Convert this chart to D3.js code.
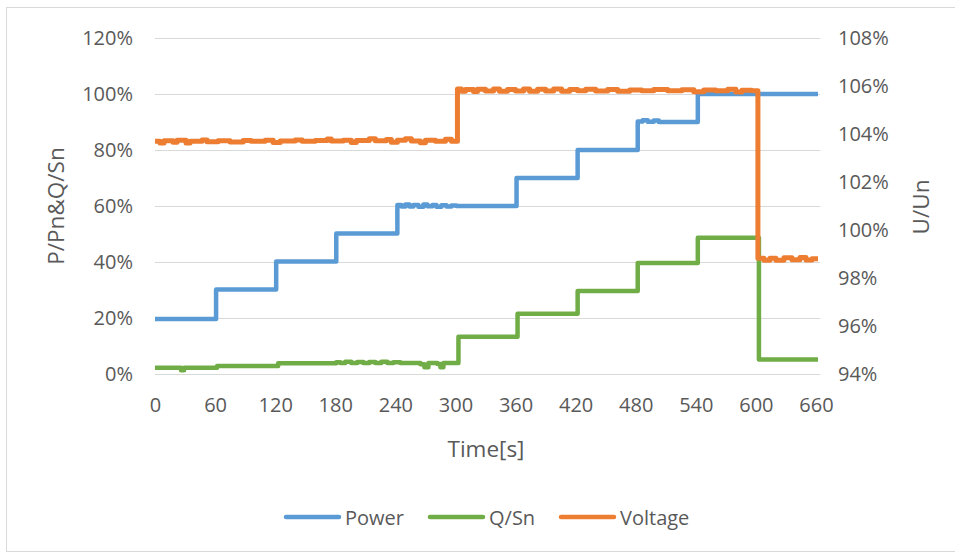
<!DOCTYPE html>
<html>
<head>
<meta charset="utf-8">
<script src="https://cdn.jsdelivr.net/npm/d3@7"></script>
<style>
  html, body { margin: 0; padding: 0; background: #fff; }
  svg { display: block; font-family: "Open Sans", "Noto Sans", sans-serif; }
  .tick text { fill: #595959; font-size: 20px; }
  .title { fill: #595959; font-size: 22.5px; }
  .legend text { fill: #595959; font-size: 20px; }
</style>
</head>
<body>
<svg id="chart" width="955" height="554"></svg>
<script>
// Step series: [time in s, value in %]; each value holds until the next time.
const powerPts = [
  [0, 19.6], [61, 30.2], [121, 40.2], [181, 50.2],
  [242, 60.4], [246, 59.8], [250, 60.5], [254, 59.8], [258, 60.4], [263, 59.7],
  [268, 60.5], [272, 59.9], [277, 60.4], [281, 59.7], [286, 60.3], [291, 59.8],
  [296, 60.2], [301, 60], [361, 70], [422, 80],
  [482, 90.2], [487, 90.6], [492, 90.1], [498, 90.5], [503, 90],
  [542, 100], [662, 100]
];
const qPts = [
  [0, 2.2], [26, 1.3], [29, 2.2], [62, 2.9], [123, 3.8],
  [181, 4.2], [185, 3.9], [190, 4.4], [196, 3.9], [202, 4.3], [208, 3.9],
  [214, 4.3], [220, 3.9], [226, 4.4], [232, 3.9], [238, 4.2], [245, 3.9],
  [265, 3.5], [269, 2.4], [273, 3.9], [282, 3.6], [285, 2.4], [288, 3.9],
  [303, 13.3], [362, 21.5], [422, 29.6], [482, 39.6], [542, 48.7],
  [603, 5.2], [662, 5.2]
];
const voltagePts = [
  [0, 103.7], [5, 103.62], [9, 103.72], [18, 103.66], [22, 103.74], [31, 103.63],
  [35, 103.7], [47, 103.75], [52, 103.68], [63, 103.72], [75, 103.67], [88, 103.73],
  [96, 103.7], [110, 103.74], [118, 103.65], [125, 103.71], [140, 103.75], [147, 103.7],
  [160, 103.73], [172, 103.79], [176, 103.71], [188, 103.74], [196, 103.65], [201, 103.73],
  [214, 103.8], [220, 103.72], [231, 103.77], [236, 103.66], [242, 103.74], [250, 103.8],
  [256, 103.71], [265, 103.64], [270, 103.74], [280, 103.7], [290, 103.78], [296, 103.7],
  [302, 105.88], [306, 105.78], [310, 105.85], [318, 105.77], [322, 105.86], [330, 105.79],
  [338, 105.87], [344, 105.78], [352, 105.85], [360, 105.79], [368, 105.88], [374, 105.78],
  [382, 105.86], [390, 105.79], [398, 105.87], [406, 105.78], [414, 105.85], [422, 105.8],
  [430, 105.86], [440, 105.79], [452, 105.85], [462, 105.78], [474, 105.83], [486, 105.8],
  [498, 105.85], [512, 105.8], [526, 105.84], [538, 105.76], [548, 105.83], [560, 105.8],
  [572, 105.86], [580, 105.75], [586, 105.82], [596, 105.8],
  [602, 98.82], [608, 98.74], [614, 98.82], [620, 98.74], [628, 98.84], [636, 98.76],
  [644, 98.85], [650, 98.75], [656, 98.8], [662, 98.8]
];

const timeTicks = [0, 60, 120, 180, 240, 300, 360, 420, 480, 540, 600, 660];
const leftTicks = [0, 20, 40, 60, 80, 100, 120];
const rightTicks = [94, 96, 98, 100, 102, 104, 106, 108];

const seriesNames = ["Power", "Q/Sn", "Voltage"];
const seriesColors = ["#5B9BD5", "#70AD47", "#ED7D31"];

const svg = d3.select("#chart");

// Outer chart frame
svg.append("rect")
  .attr("x", 6.5).attr("y", 7.5)
  .attr("width", 960).attr("height", 544)
  .attr("fill", "#fff").attr("stroke", "#d9d9d9").attr("stroke-width", 1);

const plot = { left: 155, right: 818, top: 38, bottom: 374 };

const x = d3.scaleLinear().domain([0, 662]).range([plot.left, plot.right]);
const yL = d3.scaleLinear().domain([0, 120]).range([plot.bottom, plot.top]);
const yR = d3.scaleLinear().domain([94, 108]).range([plot.bottom, plot.top]);

// Horizontal gridlines from the primary axis
svg.append("g")
  .selectAll("line")
  .data(leftTicks)
  .join("line")
  .attr("x1", plot.left).attr("x2", plot.right + 2)
  .attr("y1", d => Math.round(yL(d)) + 0.5)
  .attr("y2", d => Math.round(yL(d)) + 0.5)
  .attr("stroke", "#d9d9d9").attr("stroke-width", 1);

const pct = d => d + "%";

const gLeft = svg.append("g")
  .attr("transform", `translate(${plot.left},0)`)
  .call(d3.axisLeft(yL).tickValues(leftTicks).tickFormat(pct).tickSize(0).tickPadding(22));
gLeft.select(".domain").remove();

const gRight = svg.append("g")
  .attr("transform", `translate(${plot.right},0)`)
  .call(d3.axisRight(yR).tickValues(rightTicks).tickFormat(pct).tickSize(0).tickPadding(20));
gRight.select(".domain").remove();

const gBottom = svg.append("g")
  .attr("transform", `translate(0,${plot.bottom})`)
  .call(d3.axisBottom(x).tickValues(timeTicks).tickFormat(d3.format("d")).tickSize(0).tickPadding(24));
gBottom.select(".domain").remove();

svg.selectAll("g[font-family]").attr("font-family", null).attr("font-size", null);

// Series lines
const lineL = d3.line().x(d => x(d[0])).y(d => yL(d[1])).curve(d3.curveStepAfter);
const lineR = d3.line().x(d => x(d[0])).y(d => yR(d[1])).curve(d3.curveStepAfter);

const drawn = [
  { pts: powerPts, gen: lineL, color: seriesColors[0], w: 4.5 },
  { pts: qPts, gen: lineL, color: seriesColors[1], w: 4.5 },
  { pts: voltagePts, gen: lineR, color: seriesColors[2], w: 5 }
];
drawn.forEach(s => {
  svg.append("path")
    .attr("d", s.gen(s.pts))
    .attr("fill", "none")
    .attr("stroke", s.color)
    .attr("stroke-width", s.w)
    .attr("stroke-linejoin", "round");
});

// Axis titles
svg.append("text").attr("class", "title")
  .attr("transform", "translate(55,206) rotate(-90)")
  .attr("text-anchor", "middle").attr("dominant-baseline", "central")
  .text("P/Pn&Q/Sn");
svg.append("text").attr("class", "title")
  .attr("transform", "translate(920,207) rotate(-90)")
  .attr("text-anchor", "middle").attr("dominant-baseline", "central")
  .text("U/Un");
svg.append("text").attr("class", "title")
  .attr("x", 486).attr("y", 448)
  .attr("text-anchor", "middle").attr("dominant-baseline", "central")
  .text("Time[s]");

// Legend
const legendX = [286, 430, 561];
const legend = svg.append("g").attr("class", "legend");
seriesNames.forEach((name, i) => {
  const g = legend.append("g").attr("transform", `translate(${legendX[i]},517)`);
  g.append("line")
    .attr("x1", 0).attr("x2", 53)
    .attr("stroke", seriesColors[i]).attr("stroke-width", 4.5)
    .attr("stroke-linecap", "round");
  g.append("text")
    .attr("x", 59).attr("dominant-baseline", "central")
    .text(name);
});
</script>
</body>
</html>
